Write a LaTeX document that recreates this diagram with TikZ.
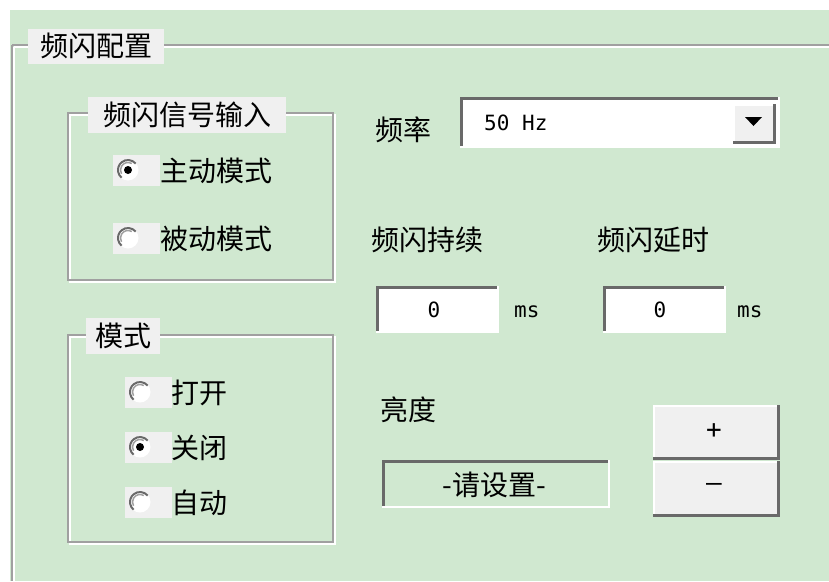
\documentclass[tikz,border=0pt]{standalone}
\usepackage{fontspec}
\newfontfamily\cjk{Noto Sans CJK SC}
\newfontfamily\mono{DejaVu Sans Mono}
\definecolor{dlgbg}{RGB}{208,232,208}
\definecolor{lblbg}{RGB}{240,240,240}
\definecolor{etch}{RGB}{160,160,160}
\definecolor{shadow}{RGB}{105,105,105}
\tikzset{
  cjktext/.style={font=\cjk\fontsize{28}{30}\selectfont, inner sep=0pt, text=black},
  titlelbl/.style={cjktext, fill=lblbg, inner xsep=3pt, inner ysep=3pt},
  monotext/.style={font=\mono\fontsize{21}{24}\selectfont, inner sep=0pt},
  btntext/.style={font=\mono\fontsize{26}{28}\selectfont, inner sep=0pt},
  etchgray/.style={draw=etch, line width=2pt},
  etchwhite/.style={draw=white, line width=2pt},
}
\newcommand{\groupbox}[4]{% x1 y1 x2 y2
  \draw[etchwhite] (#1+2,#2+2) rectangle (#3+2,#4+2);
  \draw[etchgray] (#1,#2) rectangle (#3,#4);
}
\newcommand{\radiobtn}[4]{% name, cx, cy, checked(1/0)
  \fill[lblbg] (#2-15,#3-15) rectangle (#2+32,#3+16);
  \node[circle, fill=white, minimum size=21pt, inner sep=0pt] (#1) at (#2,#3) {};
  \draw[shadow, line width=2pt] ([shift={(#2,#3)}]-40:10) arc (-40:-230:10);
  \draw[etch, line width=1.5pt] ([shift={(#2,#3)}]-60:7.5) arc (-60:-210:7.5);
  \ifnum#4=1 \fill[black] (#2,#3) circle (4); \fi
}
\newcommand{\sunken}[4]{% x1 y1 x2 y2
  \draw[white, line width=2pt] (#1,#4) -- (#3,#4) -- (#3,#2);
  \draw[shadow, line width=3pt] (#1+1,#4-1) -- (#1+1,#2+1) -- (#3-1,#2+1);
}
\newcommand{\raised}[4]{% x1 y1 x2 y2
  \draw[white, line width=2pt] (#1+1,#4-1) -- (#1+1,#2+1) -- (#3-1,#2+1);
  \draw[shadow, line width=3pt] (#1,#4) -- (#3,#4) -- (#3,#2);
}
\begin{document}
\begin{tikzpicture}[x=1pt,y=-1pt]
\useasboundingbox (0,0) rectangle (829,581);
\fill[white] (0,0) rectangle (829,581);
\fill[dlgbg] (10,10) rectangle (829,581);

% outer group
\draw[etchwhite] (14,47) -- (829,47);
\draw[etchwhite] (14,47) -- (14,581);
\draw[etchgray] (12,45) -- (829,45);
\draw[etchgray] (12,45) -- (12,581);
\node[titlelbl, minimum width=136pt, minimum height=35pt] (tmain) at (96,46) {频闪配置};

% group: signal input
\groupbox{68}{113}{333}{280}
\node[titlelbl, minimum width=198pt, minimum height=36pt] (tsig) at (187,115) {频闪信号输入};
\radiobtn{ractive}{128}{170}{1}
\node[cjktext, anchor=west] (lactive) at (160,171) {主动模式};
\radiobtn{rpassive}{128}{238}{0}
\node[cjktext, anchor=west] (lpassive) at (160,239) {被动模式};

% group: mode
\groupbox{68}{335}{333}{542}
\node[titlelbl, minimum width=74pt, minimum height=36pt] (tmode) at (123,336) {模式};
\radiobtn{ron}{140}{392}{0}
\node[cjktext, anchor=west] (lon) at (171,393) {打开};
\radiobtn{roff}{140}{447}{1}
\node[cjktext, anchor=west] (loff) at (171,448) {关闭};
\radiobtn{rauto}{140}{502}{0}
\node[cjktext, anchor=west] (lauto) at (171,503) {自动};

% frequency
\node[cjktext, anchor=west] (lfreq) at (375,130) {频率};
\fill[white] (460,97) rectangle (779,147);
\sunken{460}{97}{779}{147}
\fill[lblbg] (733,104) rectangle (774,142);
\raised{733}{104}{774}{142}
\node[monotext, anchor=west] (vfreq) at (484,123) {50 Hz};
\fill[black] (745,117) -- (762,117) -- (753.5,126) -- cycle;
\node[inner sep=0pt] (ddarrow) at (753.5,121) {};

% duration / delay
\node[cjktext, anchor=west] (ldur) at (371,240) {频闪持续};
\node[cjktext, anchor=west] (ldelay) at (597,240) {频闪延时};
\fill[white] (376,286) rectangle (498,332);
\sunken{376}{286}{498}{332}
\node[monotext] (vdur) at (434,310) {0};
\node[monotext, anchor=west] (udur) at (514,312) {ms};
\fill[white] (603,286) rectangle (725,332);
\sunken{603}{286}{725}{332}
\node[monotext] (vdelay) at (660,310) {0};
\node[monotext, anchor=west] (udelay) at (737,312) {ms};

% brightness
\node[cjktext, anchor=west] (lbright) at (380,410) {亮度};
\sunken{382}{460}{609}{507}
\node[cjktext] (vbright) at (494,485) {-请设置-};
\fill[lblbg] (653,405) rectangle (778,458);
\raised{653}{405}{778}{458}
\node[btntext] (bplus) at (714,431) {+};
\fill[lblbg] (653,461) rectangle (778,515);
\raised{653}{461}{778}{515}
\node[btntext] (bminus) at (714,487) {–};
\end{tikzpicture}
\end{document}
